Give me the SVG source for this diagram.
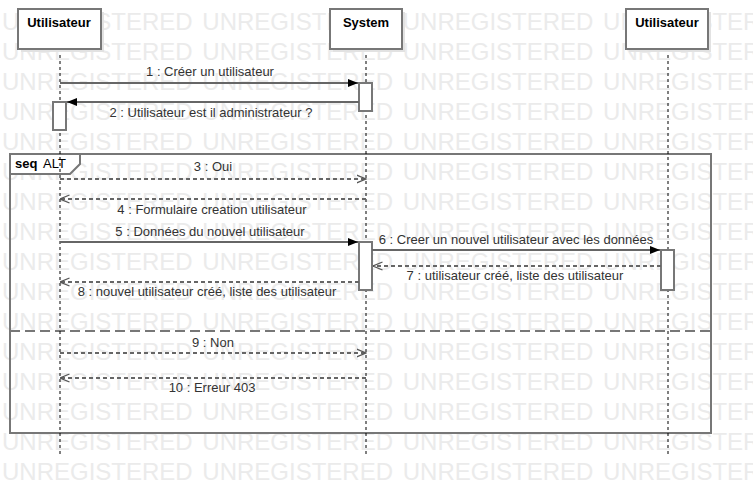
<svg xmlns="http://www.w3.org/2000/svg" width="753" height="498" viewBox="0 0 753 498">
<defs>
<style>
.wm{font-family:"Liberation Sans",Arial,sans-serif;font-size:24px;fill:#ebebeb;word-spacing:3px}
.box{fill:#fff;stroke:#777;stroke-width:2}
.shadow{fill:#e2e2e2}
.name{font-family:"Liberation Sans",Arial,sans-serif;font-size:13px;font-weight:bold;fill:#000;text-anchor:middle}
.life{stroke:#000;stroke-width:1;stroke-dasharray:3,3;fill:none}
.act{fill:#fff;stroke:#777;stroke-width:2}
.msg{stroke:#666;stroke-width:2;fill:none}
.ret{stroke:#666;stroke-width:2;fill:none;stroke-dasharray:4,3}
.lbl{font-family:"Liberation Sans",Arial,sans-serif;font-size:13px;fill:#333;text-anchor:middle}
.frame{fill:none;stroke:#777;stroke-width:2}
</style>
<marker id="fill" viewBox="0 0 10 10" refX="10" refY="5" markerWidth="10" markerHeight="10" markerUnits="userSpaceOnUse" orient="auto">
<path d="M0,1 L10,5 L0,9 Z" fill="#000"/>
</marker>
<marker id="open" viewBox="0 0 10 10" refX="9.5" refY="5" markerWidth="10" markerHeight="10" markerUnits="userSpaceOnUse" orient="auto">
<path d="M0,1 L9.5,5 L0,9" fill="none" stroke="#555" stroke-width="1.3"/>
</marker>
</defs>
<rect width="753" height="498" fill="#fff"/>
<g id="watermark" class="wm">
<text x="2" y="30">UNREGISTERED UNREGISTERED UNREGISTERED UNREGISTERED</text>
<text x="2" y="60">UNREGISTERED UNREGISTERED UNREGISTERED UNREGISTERED</text>
<text x="2" y="90">UNREGISTERED UNREGISTERED UNREGISTERED UNREGISTERED</text>
<text x="2" y="120">UNREGISTERED UNREGISTERED UNREGISTERED UNREGISTERED</text>
<text x="2" y="150">UNREGISTERED UNREGISTERED UNREGISTERED UNREGISTERED</text>
<text x="2" y="180">UNREGISTERED UNREGISTERED UNREGISTERED UNREGISTERED</text>
<text x="2" y="210">UNREGISTERED UNREGISTERED UNREGISTERED UNREGISTERED</text>
<text x="2" y="240">UNREGISTERED UNREGISTERED UNREGISTERED UNREGISTERED</text>
<text x="2" y="270">UNREGISTERED UNREGISTERED UNREGISTERED UNREGISTERED</text>
<text x="2" y="300">UNREGISTERED UNREGISTERED UNREGISTERED UNREGISTERED</text>
<text x="2" y="330">UNREGISTERED UNREGISTERED UNREGISTERED UNREGISTERED</text>
<text x="2" y="360">UNREGISTERED UNREGISTERED UNREGISTERED UNREGISTERED</text>
<text x="2" y="390">UNREGISTERED UNREGISTERED UNREGISTERED UNREGISTERED</text>
<text x="2" y="420">UNREGISTERED UNREGISTERED UNREGISTERED UNREGISTERED</text>
<text x="2" y="450">UNREGISTERED UNREGISTERED UNREGISTERED UNREGISTERED</text>
<text x="2" y="480">UNREGISTERED UNREGISTERED UNREGISTERED UNREGISTERED</text>
</g>
<g id="frame">
<rect class="frame" x="10" y="154" width="701" height="279"/>
<path d="M10,154 L80,154 L80,164 L70,174 L10,174 Z" fill="#fff" stroke="#777" stroke-width="2"/>
<text x="15" y="168" font-family="Liberation Sans,Arial,sans-serif" font-size="13" font-weight="bold" fill="#000">seq</text>
<text x="43" y="168" font-family="Liberation Sans,Arial,sans-serif" font-size="13" fill="#000">ALT</text>
<line x1="10" y1="331" x2="711" y2="331" stroke="#777" stroke-width="2" stroke-dasharray="10,5"/>
</g>
<g id="lifelines">
<line class="life" x1="60" y1="49" x2="60" y2="455"/>
<line class="life" x1="366" y1="49" x2="366" y2="455"/>
<line class="life" x1="668" y1="49" x2="668" y2="455"/>
</g>
<g id="user1">
<rect class="shadow" x="21" y="12" width="83" height="40"/>
<rect class="box" x="18" y="9" width="83" height="40"/>
<text class="name" x="59" y="27">Utilisateur</text>
<rect class="act" x="53" y="102" width="13" height="28"/>
</g>
<g id="system">
<rect class="shadow" x="333" y="12" width="72" height="40"/>
<rect class="box" x="330" y="9" width="72" height="40"/>
<text class="name" x="366" y="27">System</text>
<rect class="act" x="359" y="83" width="13" height="28"/>
<rect class="act" x="359" y="242" width="13" height="48"/>
</g>
<g id="user2">
<rect class="shadow" x="629" y="12" width="82" height="40"/>
<rect class="box" x="626" y="9" width="82" height="40"/>
<text class="name" x="667" y="27">Utilisateur</text>
<rect class="act" x="661" y="250" width="13" height="40"/>
</g>
<g id="connectors">
<line class="msg" x1="60" y1="83" x2="358" y2="83" marker-end="url(#fill)"/>
<line class="msg" x1="359" y1="102" x2="67" y2="102" marker-end="url(#fill)"/>
<line class="ret" x1="60" y1="179" x2="366" y2="179" marker-end="url(#open)"/>
<line class="ret" x1="366" y1="199" x2="60" y2="199" marker-end="url(#open)"/>
<line class="msg" x1="60" y1="242" x2="358" y2="242" marker-end="url(#fill)"/>
<line class="msg" x1="372" y1="250" x2="660" y2="250" marker-end="url(#fill)"/>
<line class="ret" x1="661" y1="266" x2="373" y2="266" marker-end="url(#open)"/>
<line class="ret" x1="359" y1="282" x2="60" y2="282" marker-end="url(#open)"/>
<line class="ret" x1="60" y1="353" x2="366" y2="353" marker-end="url(#open)"/>
<line class="ret" x1="366" y1="378" x2="60" y2="378" marker-end="url(#open)"/>
</g>
<g id="labels">
<text class="lbl" x="210" y="76">1 : Créer un utilisateur</text>
<text class="lbl" x="211" y="117">2 : Utilisateur est il administrateur ?</text>
<text class="lbl" x="213" y="171">3 : Oui</text>
<text class="lbl" x="212" y="214">4 : Formulaire creation utilisateur</text>
<text class="lbl" x="210" y="236">5 : Données du nouvel utilisateur</text>
<text class="lbl" x="516" y="244">6 : Creer un nouvel utilisateur avec les données</text>
<text class="lbl" x="515" y="280">7 : utilisateur créé, liste des utilisateur</text>
<text class="lbl" x="207" y="296">8 : nouvel utilisateur créé, liste des utilisateur</text>
<text class="lbl" x="213" y="347">9 : Non</text>
<text class="lbl" x="212" y="392">10 : Erreur 403</text>
</g>
</svg>
